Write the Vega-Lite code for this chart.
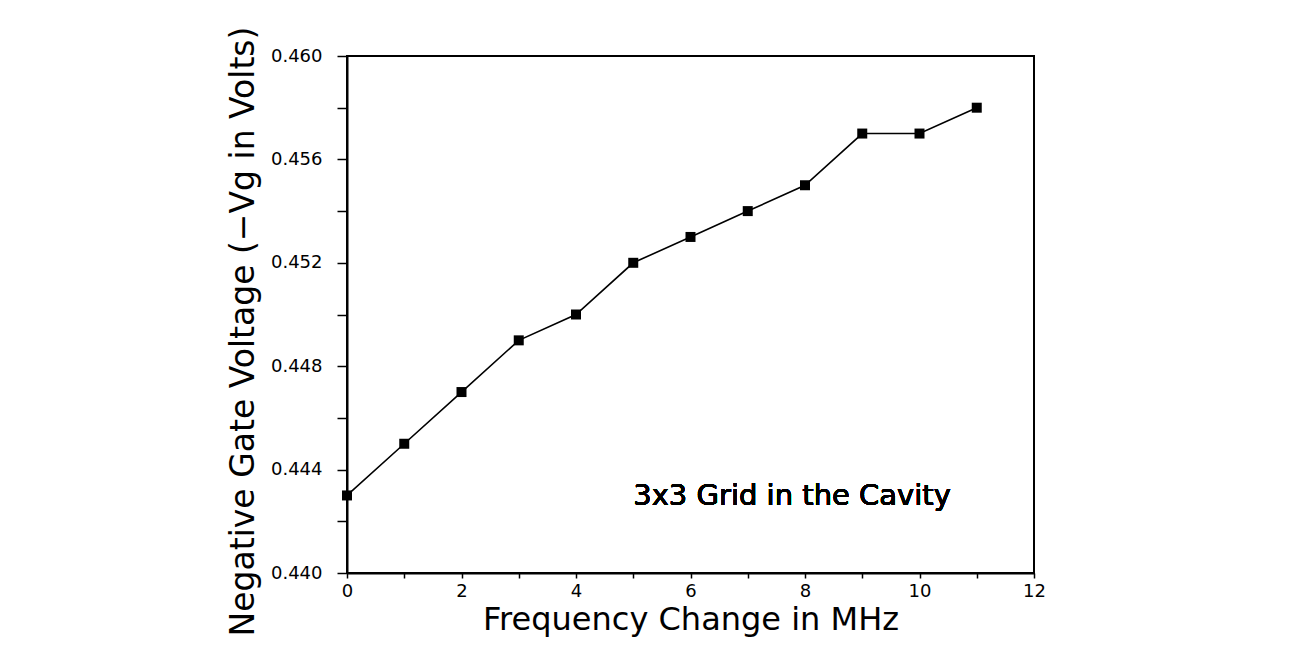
{
  "$schema": "https://vega.github.io/schema/vega-lite/v6.json",
  "width": 687,
  "height": 517,
  "autosize": "none",
  "padding": {"left": 347, "top": 56, "right": 268, "bottom": 98},
  "background": "white",
  "config": {
    "view": {"stroke": "black", "strokeWidth": 2},
    "font": "DejaVu Sans"
  },
  "data": {
    "values": [
      {"freq": 0, "vg": 0.443},
      {"freq": 1, "vg": 0.445},
      {"freq": 2, "vg": 0.447},
      {"freq": 3, "vg": 0.449},
      {"freq": 4, "vg": 0.450},
      {"freq": 5, "vg": 0.452},
      {"freq": 6, "vg": 0.453},
      {"freq": 7, "vg": 0.454},
      {"freq": 8, "vg": 0.455},
      {"freq": 9, "vg": 0.457},
      {"freq": 10, "vg": 0.457},
      {"freq": 11, "vg": 0.458}
    ]
  },
  "encoding": {
    "x": {
      "field": "freq",
      "type": "quantitative",
      "scale": {"domain": [0, 12], "nice": false, "zero": false},
      "axis": {
        "title": "Frequency Change in MHz",
        "values": [0, 1, 2, 3, 4, 5, 6, 7, 8, 9, 10, 11, 12],
        "labelExpr": "datum.value % 2 === 0 ? datum.label : ''",
        "grid": false,
        "domainColor": "black",
        "domainWidth": 2,
        "tickColor": "black",
        "tickSize": 5,
        "tickWidth": 1.5,
        "labelFontSize": 18,
        "labelColor": "black",
        "labelPadding": 4,
        "labelFlush": false,
        "titleFontSize": 32,
        "titleFontWeight": "normal",
        "titleColor": "black",
        "titlePadding": 4
      }
    },
    "y": {
      "field": "vg",
      "type": "quantitative",
      "scale": {"domain": [0.44, 0.46], "nice": false, "zero": false},
      "axis": {
        "title": "Negative Gate Voltage (−Vg in Volts)",
        "values": [0.44, 0.442, 0.444, 0.446, 0.448, 0.45, 0.452, 0.454, 0.456, 0.458, 0.46],
        "labelExpr": "round(datum.value * 1000) % 4 === 0 ? format(datum.value, '.3f') : ''",
        "grid": false,
        "domainColor": "black",
        "domainWidth": 2,
        "tickColor": "black",
        "tickSize": 10,
        "tickWidth": 1.5,
        "labelFontSize": 18,
        "labelColor": "black",
        "labelPadding": 15,
        "labelFlush": false,
        "titleFontSize": 33,
        "titleFontWeight": "normal",
        "titleColor": "black",
        "titlePadding": 10,
        "titleY": 275
      }
    }
  },
  "layer": [
    {"mark": {"type": "line", "color": "black", "strokeWidth": 1.6}},
    {"mark": {"type": "point", "shape": "square", "filled": true, "color": "black", "size": 100, "opacity": 1}},
    {
      "mark": {"type": "text", "align": "left", "baseline": "alphabetic", "fontSize": 29, "color": "black", "font": "DejaVu Sans"},
      "encoding": {
        "x": {"datum": 5},
        "y": {"datum": 0.44263},
        "text": {"value": "3x3 Grid in the Cavity"}
      }
    }
  ]
}
